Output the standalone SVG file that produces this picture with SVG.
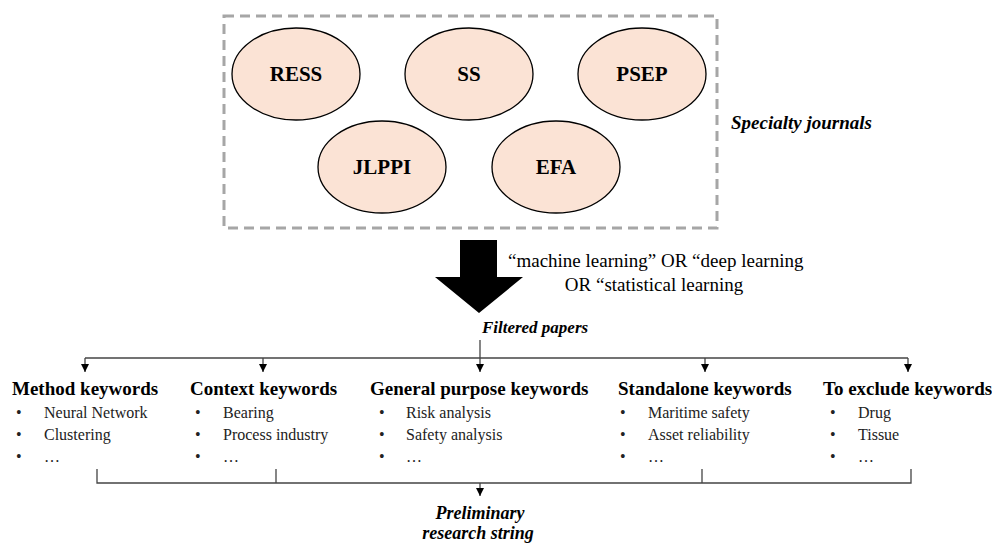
<svg xmlns="http://www.w3.org/2000/svg" width="992" height="544" viewBox="0 0 992 544">
<style>
.j{fill:#FBE3D5;stroke:#000;stroke-width:1.3}
.jt{font-family:"Liberation Serif",serif;font-weight:bold;font-size:21px;text-anchor:middle}
.bi{font-family:"Liberation Serif",serif;font-weight:bold;font-style:italic;font-size:18px}
.h{font-family:"Liberation Serif",serif;font-weight:bold;font-size:19px}
.t{font-family:"Liberation Serif",serif;font-size:16px;fill:#222}
.q{font-family:"Liberation Serif",serif;font-size:19px}
.c{fill:none;stroke:#444;stroke-width:1.3}
</style>
<defs>
<marker id="ah" markerWidth="8" markerHeight="8" refX="8" refY="4" orient="auto" markerUnits="userSpaceOnUse" viewBox="0 0 8 8">
<path d="M0,0 L8,4 L0,8 Z" fill="#000"/>
</marker>
</defs>
<rect x="224" y="16" width="493" height="212" fill="none" stroke="#A6A6A6" stroke-width="3" stroke-dasharray="10,6"/>
<g id="RESS"><ellipse class="j" cx="296" cy="74" rx="64" ry="46"/><text class="jt" x="296" y="81">RESS</text></g>
<g id="SS"><ellipse class="j" cx="469" cy="74" rx="64" ry="46"/><text class="jt" x="469" y="81">SS</text></g>
<g id="PSEP"><ellipse class="j" cx="642" cy="74" rx="64" ry="46"/><text class="jt" x="642" y="81">PSEP</text></g>
<g id="JLPPI"><ellipse class="j" cx="382" cy="167" rx="64" ry="46"/><text class="jt" x="382" y="174">JLPPI</text></g>
<g id="EFA"><ellipse class="j" cx="556" cy="167" rx="64" ry="46"/><text class="jt" x="556" y="174">EFA</text></g>
<text class="bi" x="731" y="129" style="font-size:19px">Specialty journals</text>
<g id="bigarrow"><path d="M460,240 L497,240 L497,277 L523,277 L479,313 L435,277 L460,277 Z" fill="#000"/></g>
<text class="q" x="508" y="267">“machine learning” OR “deep learning</text>
<text class="q" x="654" y="291" text-anchor="middle">OR “statistical learning</text>
<text class="bi" x="535" y="333" text-anchor="middle" style="font-size:17px">Filtered papers</text>
<g id="connectors">
<path class="c" d="M480,340 L480,358"/>
<path class="c" d="M85,358 L908,358"/>
<path class="c" d="M85,358 L85,372" marker-end="url(#ah)"/>
<path class="c" d="M263,358 L263,372" marker-end="url(#ah)"/>
<path class="c" d="M480,358 L480,372" marker-end="url(#ah)"/>
<path class="c" d="M705,358 L705,372" marker-end="url(#ah)"/>
<path class="c" d="M908,358 L908,372" marker-end="url(#ah)"/>
<path class="c" d="M97,469 L97,483 L911,483 L911,469"/>
<path class="c" d="M276,469 L276,483"/>
<path class="c" d="M702,469 L702,483"/>
<path class="c" d="M480,483 L480,496" marker-end="url(#ah)"/>
</g>
<g id="method">
<text class="h" x="12" y="395">Method keywords</text>
<text class="t" x="16" y="418">•</text><text class="t" x="44" y="418">Neural Network</text>
<text class="t" x="16" y="440">•</text><text class="t" x="44" y="440">Clustering</text>
<text class="t" x="16" y="462">•</text><text class="t" x="44" y="462">…</text>
</g>
<g id="context">
<text class="h" x="190" y="395">Context keywords</text>
<text class="t" x="195" y="418">•</text><text class="t" x="223" y="418">Bearing</text>
<text class="t" x="195" y="440">•</text><text class="t" x="223" y="440">Process industry</text>
<text class="t" x="195" y="462">•</text><text class="t" x="223" y="462">…</text>
</g>
<g id="general">
<text class="h" x="370" y="395">General purpose keywords</text>
<text class="t" x="379" y="418">•</text><text class="t" x="406" y="418">Risk analysis</text>
<text class="t" x="379" y="440">•</text><text class="t" x="406" y="440">Safety analysis</text>
<text class="t" x="379" y="462">•</text><text class="t" x="406" y="462">…</text>
</g>
<g id="standalone">
<text class="h" x="618" y="395">Standalone keywords</text>
<text class="t" x="620" y="418">•</text><text class="t" x="648" y="418">Maritime safety</text>
<text class="t" x="620" y="440">•</text><text class="t" x="648" y="440">Asset reliability</text>
<text class="t" x="620" y="462">•</text><text class="t" x="648" y="462">…</text>
</g>
<g id="exclude">
<text class="h" x="823" y="395">To exclude keywords</text>
<text class="t" x="830" y="418">•</text><text class="t" x="858" y="418">Drug</text>
<text class="t" x="830" y="440">•</text><text class="t" x="858" y="440">Tissue</text>
<text class="t" x="830" y="462">•</text><text class="t" x="858" y="462">…</text>
</g>
<text class="bi" x="480" y="519" text-anchor="middle">Preliminary</text>
<text class="bi" x="478" y="539" text-anchor="middle">research string</text>
</svg>
